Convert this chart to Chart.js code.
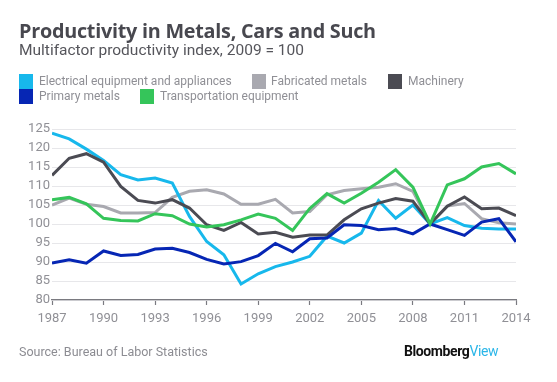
<!DOCTYPE html>
<html>
<head>
<meta charset="utf-8">
<script src="https://cdn.jsdelivr.net/npm/chart.js@4"></script>
<style>
  body { margin: 0; width: 557px; height: 382px; background: #fff; position: relative; overflow: hidden; font-family: Roboto, "Open Sans", sans-serif; }
  #chartWrap { position: absolute; left: 0; top: 0; width: 557px; height: 382px; }
  .title { position: absolute; left: 19px; top: 17px; font: bold 19.8px "Open Sans", Roboto, sans-serif; color: #48484f; letter-spacing: -0.25px; }
  .subtitle { position: absolute; left: 19px; top: 41px; font: 15.5px Roboto, sans-serif; color: #55555b; }
  .legend { position: absolute; font: 12px Roboto, sans-serif; color: #8f8f95; }
  .legend .sw { position: absolute; width: 14px; height: 15px; }
  .legend span { position: absolute; white-space: nowrap; }
  .source { position: absolute; left: 19px; top: 344px; font: 12.5px Roboto, sans-serif; color: #8c8c92; }
  .brand { position: absolute; left: 404px; top: 343px; font: bold 14px Roboto, sans-serif; color: #111; letter-spacing: -0.4px; }
  .brand b { color: #2bb6e8; font-weight: normal; }
</style>
</head>
<body>
<div id="chartWrap"><canvas id="chart" width="557" height="382"></canvas></div>
<div class="title">Productivity in Metals, Cars and Such</div>
<div class="subtitle">Multifactor productivity index, 2009 = 100</div>
<div id="legend"></div>
<div class="source">Source: Bureau of Labor Statistics</div>
<div class="brand">Bloomberg<b>View</b></div>
<script>
// Years and series (index, 2009 = 100)
const years = [1987, 1988, 1989, 1990, 1991, 1992, 1993, 1994, 1995, 1996, 1997, 1998, 1999, 2000,
               2001, 2002, 2003, 2004, 2005, 2006, 2007, 2008, 2009, 2010, 2011, 2012, 2013, 2014];

const electrical = [123.9, 122.4, 119.7, 116.7, 113.0, 111.6, 112.1, 110.8, 102.0, 95.4, 91.9, 84.2, 86.9, 88.8,
                    90.0, 91.5, 96.8, 95.0, 97.6, 106.2, 101.5, 105.0, 100.0, 101.7, 99.6, 98.9, 98.7, 98.7];
const fabricated = [105.0, 106.8, 105.2, 104.6, 102.9, 102.9, 103.0, 107.0, 108.6, 109.0, 107.9, 105.2, 105.2, 106.5,
                    102.9, 103.3, 107.7, 108.8, 109.3, 109.7, 110.6, 108.6, 100.0, 104.7, 105.4, 101.4, 100.3, 100.0];
const machinery = [112.8, 117.3, 118.5, 116.3, 109.9, 106.2, 105.5, 106.4, 104.2, 99.8, 98.3, 100.4, 97.4, 97.8,
                   96.5, 97.1, 97.1, 101.1, 104.0, 105.5, 106.7, 106.0, 100.0, 104.7, 107.1, 104.0, 104.2, 102.2];
const primary = [89.7, 90.6, 89.7, 92.9, 91.7, 92.0, 93.4, 93.6, 92.5, 90.7, 89.5, 90.1, 91.7, 94.9,
                 92.7, 96.1, 96.3, 99.8, 99.6, 98.5, 98.8, 97.4, 100.0, 98.5, 97.0, 100.5, 101.4, 95.3];
const transport = [106.4, 107.0, 105.3, 101.5, 100.9, 100.8, 102.7, 102.2, 100.0, 99.2, 99.8, 101.1, 102.6, 101.5,
                   98.3, 104.1, 108.0, 105.5, 108.1, 111.0, 114.3, 109.7, 100.0, 110.3, 111.9, 115.0, 115.9, 113.2];

const seriesNames = ['Electrical equipment and appliances', 'Fabricated metals', 'Machinery',
                     'Primary metals', 'Transportation equipment'];
const seriesData = [electrical, fabricated, machinery, primary, transport];
const colors = ['#17b8ec', '#a9a9b0', '#4b4b53', '#0626b4', '#35c55a'];
const drawOrder = [3, 4, 2, 1, 0];

const yTicks = [80, 85, 90, 95, 100, 105, 110, 115, 120, 125];
const xTicks = [1987, 1990, 1993, 1996, 1999, 2002, 2005, 2008, 2011, 2014];

// Legend (HTML)
const legendPos = [
    { sx: 19, sy: 74, tx: 39 },
    { sx: 252, sy: 74, tx: 271 },
    { sx: 388, sy: 74, tx: 408 },
    { sx: 19, sy: 89, tx: 39 },
    { sx: 140, sy: 89, tx: 160 }
];
const legend = document.getElementById('legend');
seriesNames.forEach((name, i) => {
    const p = legendPos[i];
    const item = document.createElement('div');
    item.className = 'legend';
    item.innerHTML = `<div class="sw" style="left:${p.sx}px;top:${p.sy}px;background:${colors[i]}"></div>` +
                     `<span style="left:${p.tx}px;top:${p.sy}px">${name}</span>`;
    legend.appendChild(item);
});

const tickFont = { family: 'Roboto', size: 13 };
const tickColor = '#909096';

const ctx = document.getElementById('chart').getContext('2d');
new Chart(ctx, {
    type: 'line',
    data: {
        datasets: seriesData.map((vals, i) => ({
            label: seriesNames[i],
            data: vals.map((v, j) => ({ x: years[j], y: v })),
            borderColor: colors[i],
            backgroundColor: colors[i],
            borderWidth: 3,
            pointRadius: 0,
            tension: 0,
            order: drawOrder[i]
        }))
    },
    options: {
        responsive: false,
        animation: false,
        layout: { padding: { left: 0, right: 41, top: 129, bottom: 0 } },
        plugins: { legend: { display: false }, tooltip: { enabled: false } },
        scales: {
            x: {
                type: 'linear',
                min: 1987,
                max: 2014,
                afterBuildTicks: s => { s.ticks = xTicks.map(v => ({ value: v })); },
                ticks: {
                    callback: v => String(v),
                    font: tickFont,
                    color: tickColor,
                    padding: 6,
                    maxRotation: 0,
                    autoSkip: false
                },
                grid: { drawOnChartArea: false, drawTicks: true, tickLength: 5, tickColor: '#7a7a80', tickWidth: 1.2 },
                border: { color: '#7a7a80', width: 1.2 },
                afterFit: s => { s.height = 82; }
            },
            y: {
                min: 80,
                max: 125,
                afterBuildTicks: s => { s.ticks = yTicks.map(v => ({ value: v })); },
                ticks: {
                    font: tickFont,
                    color: tickColor,
                    padding: 2,
                    autoSkip: false
                },
                grid: { color: '#e7e7ea', drawTicks: false, lineWidth: 1 },
                border: { display: false },
                afterFit: s => { s.width = 52; }
            }
        }
    }
});
</script>
</body>
</html>
